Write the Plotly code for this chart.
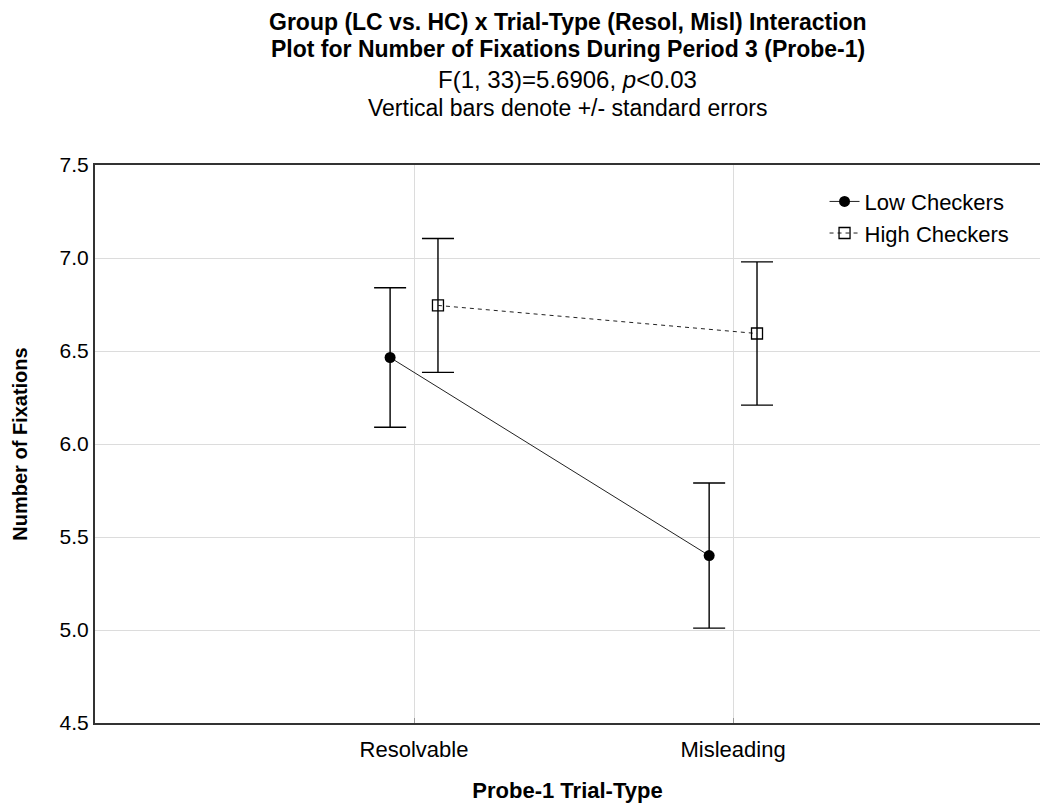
import plotly.graph_objects as go

categories = ["Resolvable", "Misleading"]
cat_pos = [1, 2]
low_means = [6.465, 5.40]
low_se = [0.375, 0.39]
high_means = [6.745, 6.594]
high_se = [0.36, 0.385]
y_ticks = [4.5, 5.0, 5.5, 6.0, 6.5, 7.0, 7.5]

OFF = 0.075
FONT = "Liberation Sans, Arial, sans-serif"

fig = go.Figure()
fig.add_trace(go.Scatter(
    x=[p - OFF for p in cat_pos], y=low_means, name="Low Checkers",
    mode="lines+markers",
    line=dict(color="#222222", width=1),
    marker=dict(symbol="circle", size=11, color="black"),
    error_y=dict(type="data", array=low_se, color="black", thickness=1.4, width=16),
))
fig.add_trace(go.Scatter(
    x=[p + OFF for p in cat_pos], y=high_means, name="High Checkers",
    mode="lines+markers",
    line=dict(color="#222222", width=1, dash="4px,4px"),
    marker=dict(symbol="square-open", size=11, color="black", line=dict(width=1.3)),
    error_y=dict(type="data", array=high_se, color="black", thickness=1.4, width=16),
))

title_lines = [
    ("<b>Group (LC vs. HC) x Trial-Type (Resol, Misl) Interaction</b>", 22, 23),
    ("<b>Plot for Number of Fixations During Period 3 (Probe-1)</b>", 49, 23),
    ("F(1, 33)=5.6906, <i>p</i><0.03", 79, 24),
    ("Vertical bars denote +/- standard errors", 108, 23),
]
for txt, yy, fs in title_lines:
    fig.add_annotation(text=txt, xref="paper", yref="paper", x=0.5, xanchor="center",
                       y=1 + (165 - yy) / 558, yanchor="middle", showarrow=False,
                       font=dict(family=FONT, size=fs, color="black"))

fig.update_layout(
    width=1040, height=803,
    margin=dict(l=95, r=0, t=165, b=80),
    paper_bgcolor="white", plot_bgcolor="white",
    font=dict(family=FONT, size=22, color="black"),
    showlegend=True,
    legend=dict(x=0.772, y=0.972, xanchor="left", yanchor="top",
                bgcolor="rgba(0,0,0,0)", font=dict(size=22), tracegroupgap=0,
                itemwidth=30),
)
fig.update_xaxes(
    range=[0, 2.962], tickvals=cat_pos, ticktext=categories,
    showgrid=True, gridcolor="#dcdcdc", gridwidth=1,
    showline=True, linecolor="#333333", linewidth=2, mirror=True,
    ticks="inside", ticklen=5, tickcolor="#999999",
    tickfont=dict(size=22), zeroline=False, ticklabelstandoff=6,
    title=dict(text="<b>Probe-1 Trial-Type</b>", font=dict(size=22), standoff=23),
)
fig.update_yaxes(
    range=[4.5, 7.5], tickvals=y_ticks, ticktext=[f"{v:.1f}" for v in y_ticks],
    showgrid=True, gridcolor="#dcdcdc", gridwidth=1,
    showline=True, linecolor="#333333", linewidth=2,
    ticks="", tickfont=dict(size=21), zeroline=False, automargin=False,
    title=dict(text="<b>Number of Fixations</b>", font=dict(size=20), standoff=27),
)
fig.write_html("out.html")
